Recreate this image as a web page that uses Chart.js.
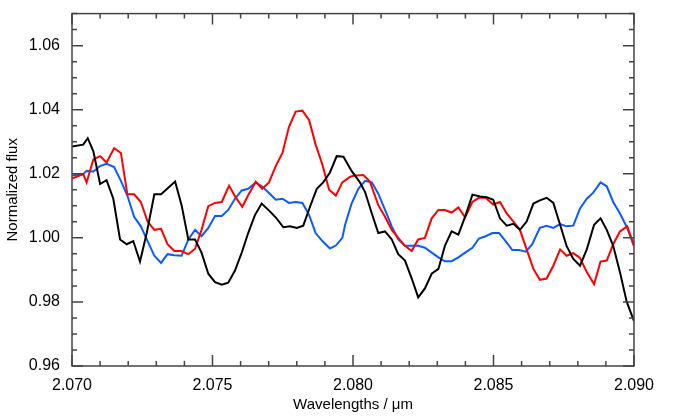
<!DOCTYPE html>
<html lang="en">
<head>
<meta charset="UTF-8" />
<title>Normalized flux</title>
<script src="https://cdn.jsdelivr.net/npm/chart.js"></script>
<style>
  body { margin: 0; background: #fff; }
  #wrap { width: 680px; height: 418px; }
</style>
</head>
<body>
<div id="wrap"><canvas id="chart"></canvas></div>
<script>
const blackWl = [2.0700,2.07040,2.07056,2.07076,2.07100,2.07123,2.07147,2.07171,2.07195,2.07218,2.07242,2.07266,2.07293,2.07317,2.07367,2.07390,2.07414,2.07438,2.07461,2.07485,2.07509,2.07533,2.07556,2.07580,2.07604,2.07627,2.07651,2.07675,2.07705,2.07728,2.07752,2.07776,2.07800,2.07823,2.07847,2.07871,2.07894,2.07918,2.07942,2.07966,2.07995,2.08025,2.08043,2.08067,2.08090,2.08114,2.08138,2.08161,2.08185,2.08209,2.08232,2.08256,2.08280,2.08304,2.08327,2.08351,2.08375,2.08399,2.08425,2.08452,2.08476,2.08499,2.08523,2.08547,2.08571,2.08594,2.08618,2.08642,2.08665,2.08689,2.08713,2.08737,2.08760,2.08784,2.08808,2.08832,2.08858,2.08881,2.08903,2.08926,2.08950,2.08974,2.0900];
const blackFlux = [1.0285,1.0291,1.0311,1.0270,1.0168,1.0180,1.0122,0.9995,0.9980,0.9990,0.9926,1.0015,1.0136,1.0136,1.0176,1.0102,0.9995,0.9995,0.9954,0.9888,0.9862,0.9854,0.9860,0.9898,0.9954,1.0015,1.0071,1.0107,1.0082,1.0061,1.0033,1.0036,1.0031,1.0038,1.0097,1.0153,1.0173,1.0204,1.0255,1.0253,1.0209,1.0173,1.0143,1.0076,1.0015,1.0020,0.9995,0.9949,0.9929,0.9873,0.9814,0.9842,0.9888,0.9903,0.9975,1.0020,1.0010,1.0066,1.0135,1.0129,1.0127,1.0119,1.0061,1.0038,1.0044,1.0025,1.0051,1.0107,1.0117,1.0125,1.0109,1.0041,0.9975,0.9934,0.9913,0.9964,1.0041,1.0061,1.0025,0.9975,0.9893,0.9801,0.9740];

const redWl = [2.0700,2.07040,2.07052,2.07076,2.07100,2.07123,2.07150,2.07174,2.07197,2.07221,2.07245,2.07269,2.07293,2.07317,2.07340,2.07364,2.07388,2.07414,2.07438,2.07461,2.07485,2.07509,2.07533,2.07559,2.07582,2.07606,2.07630,2.07654,2.07677,2.07701,2.07725,2.07749,2.07772,2.07796,2.07820,2.07844,2.07867,2.07891,2.07915,2.07939,2.07962,2.07989,2.08001,2.08037,2.08060,2.08090,2.08114,2.08138,2.08161,2.08185,2.08209,2.08232,2.08256,2.08280,2.08304,2.08327,2.08351,2.08375,2.08399,2.08425,2.08448,2.08472,2.08499,2.08523,2.08547,2.08571,2.08594,2.08618,2.08642,2.08665,2.08689,2.08713,2.08737,2.08760,2.08784,2.08808,2.08832,2.08858,2.08881,2.08903,2.08926,2.08950,2.08976,2.0900];
const redFlux = [1.0185,1.0199,1.0173,1.0245,1.0255,1.0235,1.0280,1.0265,1.0136,1.0136,1.0112,1.0051,1.0025,1.0028,0.9980,0.9959,0.9959,0.9949,0.9966,1.0025,1.0099,1.0109,1.0112,1.0163,1.0127,1.0097,1.0138,1.0175,1.0153,1.0173,1.0224,1.0265,1.0346,1.0394,1.0397,1.0367,1.0291,1.0229,1.0150,1.0132,1.0173,1.0190,1.0194,1.0196,1.0176,1.0102,1.0066,1.0025,1.0000,0.9975,0.9959,0.9995,1.0000,1.0061,1.0087,1.0087,1.0079,1.0095,1.0064,1.0112,1.0125,1.0125,1.0104,1.0112,1.0076,1.0051,1.0025,0.9964,0.9903,0.9869,0.9873,0.9913,0.9964,0.9944,0.9952,0.9937,0.9893,0.9855,0.9926,0.9929,0.9980,1.0020,1.0036,0.9975];

const blueWl = [2.0700,2.07040,2.07052,2.07076,2.07100,2.07123,2.07150,2.07174,2.07197,2.07221,2.07245,2.07269,2.07293,2.07317,2.07340,2.07364,2.07390,2.07414,2.07438,2.07461,2.07485,2.07509,2.07533,2.07556,2.07580,2.07604,2.07627,2.07654,2.07677,2.07701,2.07725,2.07749,2.07772,2.07796,2.07820,2.07844,2.07867,2.07891,2.07918,2.07939,2.07962,2.07972,2.07995,2.08019,2.08043,2.08067,2.08090,2.08114,2.08138,2.08161,2.08185,2.08209,2.08232,2.08256,2.08280,2.08304,2.08327,2.08351,2.08375,2.08399,2.08425,2.08448,2.08472,2.08496,2.08520,2.08543,2.08567,2.08591,2.08615,2.08638,2.08665,2.08689,2.08713,2.08737,2.08760,2.08784,2.08808,2.08832,2.08855,2.08881,2.08903,2.08926,2.08950,2.08976,2.0900];
const blueFlux = [1.0195,1.0199,1.0209,1.0207,1.0224,1.0231,1.0221,1.0178,1.0132,1.0066,1.0036,0.9990,0.9944,0.9922,0.9949,0.9946,0.9944,0.9995,1.0025,1.0005,1.0031,1.0068,1.0068,1.0087,1.0122,1.0148,1.0153,1.0173,1.0160,1.0140,1.0119,1.0122,1.0109,1.0112,1.0109,1.0071,1.0015,0.9990,0.9967,0.9976,1.0000,1.0041,1.0107,1.0153,1.0178,1.0173,1.0138,1.0087,1.0036,0.9995,0.9975,0.9975,0.9975,0.9969,0.9954,0.9939,0.9927,0.9927,0.9939,0.9954,0.9969,0.9998,1.0005,1.0015,1.0015,0.9990,0.9962,0.9962,0.9957,0.9980,1.0031,1.0038,1.0031,1.0043,1.0036,1.0038,1.0092,1.0122,1.0141,1.0173,1.0161,1.0112,1.0076,1.0031,0.9975];

const xTickStep = 0.005;
const yTicks = [0.96, 0.98, 1.00, 1.02, 1.04, 1.06];

function pts(wl, fl) { return wl.map((w, i) => ({ x: w, y: fl[i] })); }

// IDL style frame: box on all sides, ticks pointing inward
const idlFrame = {
  id: "idlFrame",
  afterDraw(chart) {
    const { ctx, chartArea: a, scales } = chart;
    ctx.save();
    ctx.strokeStyle = "#444";
    ctx.lineWidth = 1.5;
    ctx.strokeRect(a.left, a.top, a.right - a.left, a.bottom - a.top);
    ctx.beginPath();
    for (let i = 0; i <= 20; i++) {
      const px = scales.x.getPixelForValue(2.070 + i * 0.001);
      const len = i % 5 === 0 ? 11 : 5;
      ctx.moveTo(px, a.bottom); ctx.lineTo(px, a.bottom - len);
      ctx.moveTo(px, a.top); ctx.lineTo(px, a.top + len);
    }
    for (let i = 0; i <= 22; i++) {
      const v = 0.96 + i * 0.005;
      const py = scales.y.getPixelForValue(v);
      const len = i % 4 === 0 ? 11 : 5;
      ctx.moveTo(a.left, py); ctx.lineTo(a.left + len, py);
      ctx.moveTo(a.right, py); ctx.lineTo(a.right - len, py);
    }
    ctx.stroke();
    ctx.restore();
  }
};

const font = { family: "Liberation Sans, Arial, sans-serif", size: 16 };

new Chart(document.getElementById("chart"), {
  type: "line",
  data: {
    datasets: [
      { data: pts(blackWl, blackFlux), borderColor: "#000000", borderWidth: 2, pointRadius: 0, tension: 0 },
      { data: pts(redWl, redFlux), borderColor: "#ff0000", borderWidth: 2, pointRadius: 0, tension: 0 },
      { data: pts(blueWl, blueFlux), borderColor: "#0a5cff", borderWidth: 2, pointRadius: 0, tension: 0 }
    ]
  },
  options: {
    responsive: true,
    maintainAspectRatio: false,
    animation: false,
    layout: { padding: { top: 6, right: 46, left: 0, bottom: 0 } },
    plugins: { legend: { display: false }, tooltip: { enabled: false } },
    scales: {
      x: {
        type: "linear", min: 2.070, max: 2.090,
        grid: { display: false },
        border: { display: false },
        ticks: { stepSize: xTickStep, color: "#000", font, padding: 2, maxRotation: 0,
                 callback: v => v.toFixed(3) },
        title: { display: true, text: "Wavelengths / \u03bcm", color: "#000", font: { ...font, size: 15 }, padding: { top: 0 } },
        afterFit: s => { s.height = 52; }
      },
      y: {
        min: 0.96, max: 1.07,
        grid: { display: false },
        border: { display: false },
        afterBuildTicks: s => { s.ticks = yTicks.map(v => ({ value: v })); },
        ticks: { color: "#000", font, padding: 4, callback: v => v.toFixed(2) },
        title: { display: true, text: "Normalized flux", color: "#000", font: { ...font, size: 15 }, padding: { bottom: 4 } },
        afterFit: s => { s.width = 72; }
      }
    }
  },
  plugins: [idlFrame]
});
</script>
</body>
</html>
